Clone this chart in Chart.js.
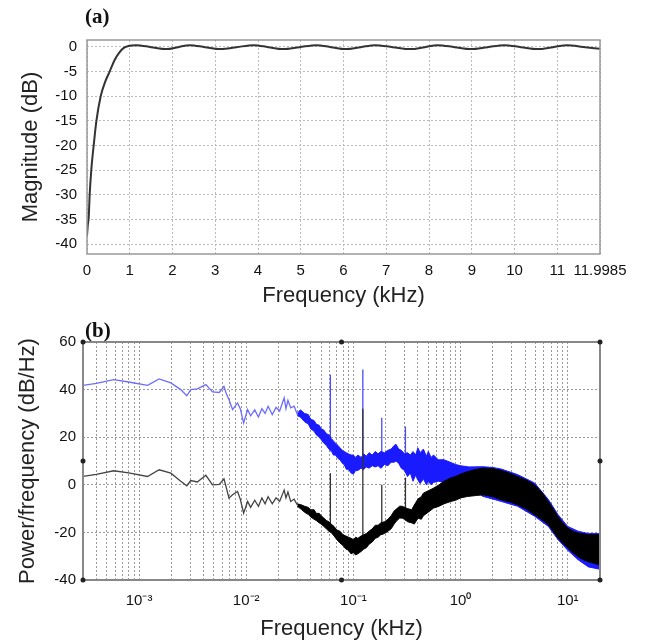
<!DOCTYPE html>
<html>
<head>
<meta charset="utf-8">
<script src="https://cdn.jsdelivr.net/npm/chart.js@4.4.1/dist/chart.umd.min.js"></script>
<style>
  html, body { margin: 0; padding: 0; background: #fff; }
  .wrap { position: relative; width: 647px; height: 643px; }
  canvas { position: absolute; left: 0; top: 0; }
  .tag { position: absolute; font: bold 21px 'Liberation Serif', 'Times New Roman', serif; color: #111; }
</style>
</head>
<body>
<div class="wrap">
  <canvas id="chartA" width="647" height="643"></canvas>
  <canvas id="chartB" width="647" height="643"></canvas>
  <div class="tag" style="left:85px;top:4px">(a)</div>
  <div class="tag" style="left:85px;top:318px">(b)</div>
</div>
<script>
// (a) filter magnitude response
const magFreq = [0, 0.02, 0.04, 0.0625, 0.1, 0.156, 0.22, 0.32, 0.42, 0.53, 0.65, 0.75, 0.86, 0.97, 1.15,
  1.5, 1.86, 2.13, 2.4, 2.76, 3.13, 3.5, 3.9, 4.24, 4.58, 4.97, 5.37, 5.71, 6.05, 6.4, 6.74, 7.15, 7.57,
  7.9, 8.2, 8.6, 8.98, 9.37, 9.76, 10.15, 10.54, 10.9, 11.23, 11.6, 11.9985];
const magDb = [-38.3, -36, -34.6, -30, -25, -20, -15, -10, -7.2, -5, -2.6, -1.2, -0.2, 0.2, 0.35,
  -0.05, -0.45, -0.05, 0.35, -0.05, -0.45, -0.05, 0.35, -0.05, -0.45, -0.05, 0.35, -0.05, -0.45, -0.05, 0.35, -0.05, -0.45,
  -0.05, 0.35, -0.05, -0.45, -0.05, 0.35, -0.05, -0.45, -0.05, 0.35, 0, -0.4];
const magXTicks = [0, 1, 2, 3, 4, 5, 6, 7, 8, 9, 10, 11, 11.9985];
const magYTicks = [-40, -35, -30, -25, -20, -15, -10, -5, 0];

// (b) power spectral density, thin low-frequency part
const lineFreq = [0.0003, 0.0004, 0.00058, 0.0008, 0.0012, 0.00154, 0.00198, 0.00245, 0.00279, 0.00304, 0.0035,
  0.0042, 0.00485, 0.0056, 0.0062, 0.0065, 0.0069, 0.00746, 0.0083, 0.0088, 0.00946, 0.0103, 0.011, 0.012, 0.013,
  0.014, 0.015, 0.016, 0.0175, 0.019, 0.0205, 0.022, 0.0226, 0.0235, 0.0245, 0.026, 0.028, 0.030];
const blueLineDb = [41.8, 42.6, 44.2, 43.2, 41.8, 44.5, 42.8, 40, 37.4, 40, 40.3,
  42.1, 39, 38.8, 41.4, 38.5, 35.8, 31.6, 34.4, 32, 26, 31.6, 29, 31.5, 28.5,
  32, 30, 33, 29.5, 32.5, 31, 35, 36.5, 32, 35.5, 32.3, 33, 29.5];
const blackLineDb = [3.5, 4.4, 5.9, 5, 3.5, 6.3, 4.9, 1.5, -0.4, 1.8, 1.2,
  4, 0, 0.2, 2.5, -1, -5.6, -4.2, -2.8, -6, -11.9, -7, -9.5, -6.5, -9,
  -5.5, -8, -5, -8, -5.5, -7, -3.5, -2.2, -5.5, -3, -7, -6, -8.5];

// (b) noisy part, read as upper / lower envelope of the trace
const blueBandFreq = [0.030, 0.032, 0.035, 0.038, 0.040, 0.043, 0.045, 0.048, 0.050, 0.053, 0.056, 0.059, 0.062,
  0.065, 0.068, 0.072, 0.075, 0.079, 0.082, 0.086, 0.09, 0.095, 0.10, 0.105, 0.11, 0.118, 0.125, 0.132, 0.14,
  0.15, 0.16, 0.17, 0.18, 0.195, 0.21, 0.225, 0.24, 0.25, 0.265, 0.28, 0.30, 0.32, 0.34, 0.36, 0.38, 0.40,
  0.42, 0.45, 0.48, 0.50, 0.53, 0.56, 0.62, 0.70, 0.80, 0.90, 1.0, 1.2, 1.6, 2.0, 2.4, 3.4, 4.9, 6.6, 8.1,
  10, 12.5, 15.6, 20];
const blueUpper = [30, 31.5, 30, 29.5, 27.5, 27, 25.5, 25, 23.5, 23, 21.5, 21, 19.5,
  18.5, 17.5, 16.5, 15.5, 14.5, 14, 13.5, 13, 12.5, 12.5, 11.5, 12.5, 11.5, 13, 12, 13.5,
  12.5, 14, 13, 14, 13.5, 14.5, 15, 16.5, 17, 15, 14.5, 13, 13.5, 12.5, 14, 12.5, 15.5,
  13.5, 15, 12, 14, 11.5, 12.5, 10.5, 10.5, 9.5, 8.5, 8, 7.5, 7.6, 7.3, 6.6, 4.3, 0.8, -6.2, -12.5,
  -17.5, -19.5, -20.5, -20.5];
const blueLower = [29, 28.5, 26.5, 25.5, 23.5, 22.5, 21, 20, 19, 17.5, 16.5, 15, 14.5,
  12.5, 12.5, 11, 10.5, 9, 8.5, 6.5, 6.5, 5, 4.5, 6, 6, 7, 6.5, 7.5, 7,
  8, 7.5, 8, 7, 8.5, 8, 9.5, 9.5, 10, 9, 7, 6, 3.5, 5, 1.5, 4, 2,
  0.5, 2.5, 0, 1.5, 0, 1, 1.5, 1, 1.5, 2, 1, 0, -4.8, -6, -7, -9, -13.2, -17.5, -23,
  -27.5, -31.5, -34.5, -35.5];

const blackBandFreq = [0.030, 0.033, 0.035, 0.038, 0.040, 0.043, 0.045, 0.048, 0.050, 0.053, 0.056, 0.059, 0.062,
  0.066, 0.07, 0.075, 0.08, 0.085, 0.09, 0.095, 0.10, 0.105, 0.11, 0.118, 0.125, 0.132, 0.14, 0.15, 0.16,
  0.17, 0.18, 0.195, 0.21, 0.225, 0.24, 0.255, 0.27, 0.285, 0.30, 0.32, 0.35, 0.37, 0.40, 0.43, 0.45, 0.50,
  0.56, 0.63, 0.70, 0.81, 0.9, 1.0, 1.16, 1.4, 1.64, 2.0, 2.4, 2.9, 3.4, 4.1, 4.9, 5.7, 6.6, 7.3, 8.1,
  9.0, 10, 11.2, 12.5, 14, 15.6, 17.5, 20];
const blackUpper = [-8, -8.5, -9, -9.5, -10.5, -10.5, -12, -12, -13, -14, -15, -15.5, -16.5,
  -17.5, -19, -19.5, -21, -21.5, -22, -22.5, -23, -22, -22.5, -21.5, -21, -20.5, -19.5, -18.5, -17,
  -17, -16, -15.5, -14.5, -13, -11, -10, -9, -9, -9.5, -10, -10.5, -8.5, -6, -5, -3.5, -2.5,
  -1.4, 0, 1.5, 2.9, 3.5, 4.5, 5.5, 6.5, 7, 6.8, 6, 4.8, 3.5, 2, 0, -3, -7, -10, -13.3,
  -16, -18.2, -19.5, -20.3, -20.5, -21, -21, -21];
const blackLower = [-9, -10.5, -11.5, -12.5, -13.5, -14.5, -15, -16, -16.5, -17.5, -18.5, -19.5, -20,
  -21.5, -23, -24.5, -25.5, -27, -27.5, -29, -28.5, -29.5, -29, -28, -27, -26.5, -25, -24, -22.5,
  -22, -21, -20.5, -19.5, -18.5, -16.5, -15, -14, -14, -14.5, -15.5, -16, -16.5, -14, -14.5, -13, -11.5,
  -9.8, -9, -8, -7, -6.5, -5.5, -4.9, -4.5, -4.2, -5, -6.3, -7.2, -8.4, -10.2, -12.6, -14.5, -16.8, -19.5, -22.4,
  -24.5, -26.6, -28.5, -30.2, -31.5, -32.3, -33, -33.7];

// (b) narrow tonal peaks
const spikeFreq = [0.061, 0.1225, 0.184, 0.306];
const blueSpikeTop = [46.3, 48.4, 28.2, 24.5];
const blueSpikeBase = [14, 6, 7, 5];
const blackSpikeTop = [4.9, 32, 0, 3];
const blackSpikeBase = [-20, -27, -21, -15];

const psdXLabels = ['10⁻³', '10⁻²', '10⁻¹', '10⁰', '10¹'];
const psdXMajor = [0.001, 0.01, 0.1, 1, 10];
const psdYTicks = [-40, -20, 0, 20, 40, 60];

const BLUE = '#1a1aff';
const BLUE_THIN = '#6d6dff';
const BLACK = '#000';
const tickFont = { family: "'Liberation Sans', Arial, sans-serif", size: 15 };
const titleFont = { family: "'Liberation Sans', Arial, sans-serif", size: 22 };

const framePlugin = {
  id: 'frame',
  afterDraw(chart, args, opts) {
    const { ctx, chartArea: a } = chart;
    ctx.save();
    ctx.strokeStyle = opts.color;
    ctx.lineWidth = opts.width;
    ctx.strokeRect(a.left, a.top, a.right - a.left, a.bottom - a.top);
    if (opts.handles) {
      const xs = [a.left, (a.left + a.right) / 2, a.right];
      const ys = [a.top, (a.top + a.bottom) / 2, a.bottom];
      ctx.fillStyle = '#222';
      xs.forEach((x, i) => ys.forEach((y, j) => {
        if (i === 1 && j === 1) return;
        ctx.beginPath();
        ctx.arc(x, y, 2.5, 0, Math.PI * 2);
        ctx.fill();
      }));
    }
    ctx.restore();
  }
};

const pts = (xs, ys) => xs.map((x, i) => ({ x, y: ys[i] }));

// ---------- chart (a)
new Chart(document.getElementById('chartA'), {
  type: 'line',
  data: {
    datasets: [{
      data: pts(magFreq, magDb),
      borderColor: '#333',
      borderWidth: 2,
      pointRadius: 0,
      cubicInterpolationMode: 'monotone',
      fill: false
    }]
  },
  plugins: [framePlugin],
  options: {
    responsive: false,
    animation: false,
    devicePixelRatio: 1,
    layout: { padding: { top: 40, right: 47, bottom: 333, left: 0 } },
    plugins: {
      legend: { display: false },
      tooltip: { enabled: false },
      frame: { color: '#999', width: 1.5 }
    },
    scales: {
      x: {
        type: 'linear', min: 0, max: 11.9985,
        afterBuildTicks: s => { s.ticks = magXTicks.map(v => ({ value: v })); },
        afterFit: s => { s.height = 56; },
        ticks: { autoSkip: false, maxRotation: 0, padding: 8, color: '#111', font: tickFont, callback: v => String(v) },
        grid: { color: '#bbb', drawTicks: false },
        border: { display: false, dash: [2, 2] },
        title: { display: true, text: 'Frequency (kHz)', color: '#222', font: titleFont, padding: { top: 0, bottom: 1 } }
      },
      y: {
        type: 'linear', min: -42, max: 1.4,
        afterBuildTicks: s => { s.ticks = magYTicks.map(v => ({ value: v })); },
        afterFit: s => { s.width = 87; },
        ticks: { autoSkip: false, padding: 10, color: '#111', font: tickFont },
        grid: { color: '#bbb', drawTicks: false },
        border: { display: false, dash: [2, 2] },
        title: { display: true, text: 'Magnitude (dB)', color: '#222', font: titleFont, padding: { top: 18, bottom: 0 } }
      }
    }
  }
});

// ---------- chart (b)
const dsB = [];
dsB.push({ data: pts(lineFreq, blackLineDb), borderColor: '#444', borderWidth: 1.3, order: 1 });
dsB.push({ data: pts(blackBandFreq, blackUpper), borderColor: BLACK, borderWidth: 1, order: 1 });
dsB.push({ data: pts(blackBandFreq, blackLower), borderColor: BLACK, borderWidth: 1, order: 1,
  fill: { target: dsB.length - 1 }, backgroundColor: BLACK });
spikeFreq.forEach((f, i) => dsB.push({
  data: [{ x: f, y: blackSpikeBase[i] }, { x: f, y: blackSpikeTop[i] }], borderColor: '#333', borderWidth: 1.3, order: 1
}));
dsB.push({ data: pts(lineFreq, blueLineDb), borderColor: BLUE_THIN, borderWidth: 1.3, order: 2 });
dsB.push({ data: pts(blueBandFreq, blueUpper), borderColor: BLUE, borderWidth: 1, order: 2 });
dsB.push({ data: pts(blueBandFreq, blueLower), borderColor: BLUE, borderWidth: 1, order: 2,
  fill: { target: dsB.length - 1 }, backgroundColor: BLUE });
spikeFreq.forEach((f, i) => dsB.push({
  data: [{ x: f, y: blueSpikeBase[i] }, { x: f, y: blueSpikeTop[i] }], borderColor: '#4a4aff', borderWidth: 1.3, order: 2
}));
dsB.forEach(d => { d.pointRadius = 0; d.tension = 0; if (!d.fill) d.fill = false; });

const gridFreq = [];
for (let e = -4; e <= 1; e++) {
  for (let k = 1; k <= 9; k++) {
    const v = k * Math.pow(10, e);
    if (v >= 0.0003 && v <= 20) gridFreq.push(v);
  }
}

new Chart(document.getElementById('chartB'), {
  type: 'line',
  data: { datasets: dsB },
  plugins: [framePlugin],
  options: {
    responsive: false,
    animation: false,
    devicePixelRatio: 1,
    layout: { padding: { top: 342, right: 47, bottom: 0, left: 0 } },
    plugins: {
      legend: { display: false },
      tooltip: { enabled: false },
      frame: { color: '#888', width: 2, handles: true }
    },
    scales: {
      x: {
        type: 'logarithmic', min: 0.0003, max: 20,
        afterBuildTicks: s => { s.ticks = gridFreq.map(v => ({ value: v })); },
        afterFit: s => { s.height = 63; },
        ticks: {
          autoSkip: false, maxRotation: 0, padding: 12, color: '#111', font: tickFont,
          callback: v => {
            const i = psdXMajor.findIndex(m => Math.abs(m - v) < m * 1e-6);
            return i >= 0 ? psdXLabels[i] : '';
          }
        },
        grid: { color: '#999', drawTicks: false },
        border: { display: false, dash: [2, 2] },
        title: { display: true, text: 'Frequency (kHz)', color: '#222', font: titleFont, padding: { top: 0, bottom: 1 } }
      },
      y: {
        type: 'linear', min: -40, max: 60,
        afterBuildTicks: s => { s.ticks = psdYTicks.map(v => ({ value: v })); },
        afterFit: s => { s.width = 83; },
        ticks: { autoSkip: false, padding: 7, color: '#111', font: tickFont },
        grid: { color: '#999', drawTicks: false },
        border: { display: false, dash: [2, 2] },
        title: { display: true, text: 'Power/frequency (dB/Hz)', color: '#222', font: titleFont, padding: { top: 15, bottom: 0 } }
      }
    }
  }
});
</script>
</body>
</html>
